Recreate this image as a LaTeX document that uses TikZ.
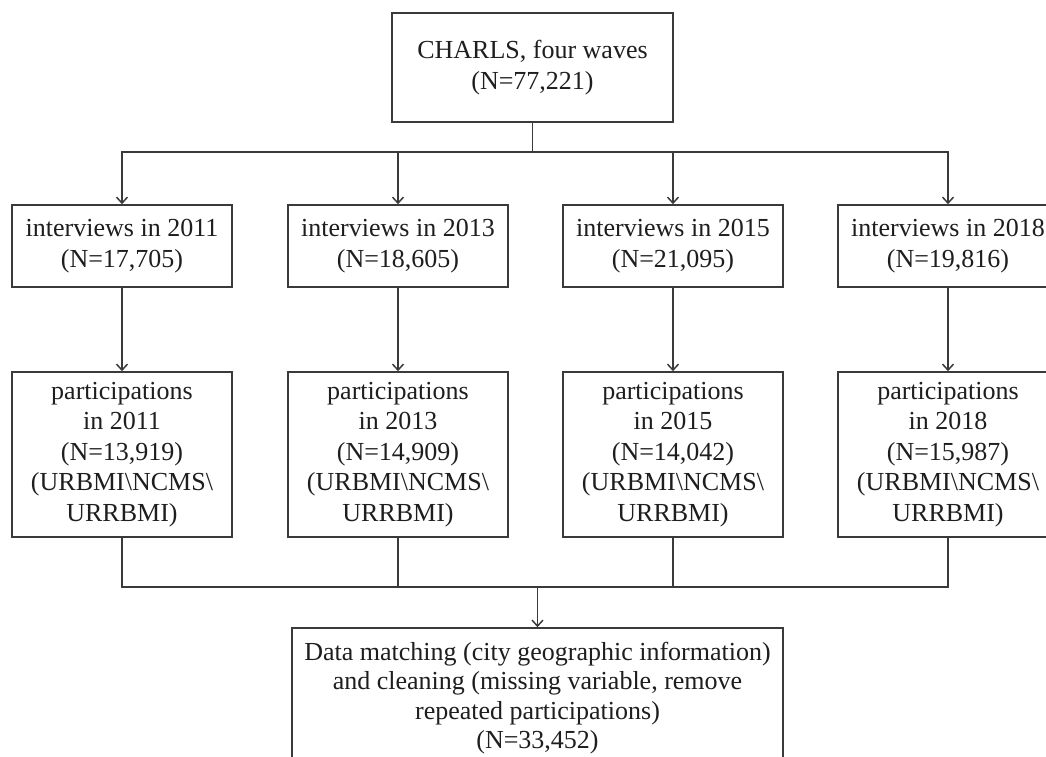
\documentclass[tikz,border=0pt]{standalone}
\usepackage{fontspec}
\setmainfont{Liberation Serif}
\usepackage{tikz}
\usetikzlibrary{positioning,arrows.meta,calc}
\definecolor{boxline}{HTML}{3A3A3A}
\definecolor{flowtext}{HTML}{1E1E1E}

\begin{document}
\begin{tikzpicture}[
  x=1pt,y=-1pt,
  font=\fontsize{26}{30.5}\selectfont,
  text=flowtext,
  flowbox/.style={rectangle,draw=boxline,line width=1.6pt,fill=white,align=center,inner sep=2pt},
  wavebox/.style={flowbox,minimum width=220pt,minimum height=82pt},
  partbox/.style={flowbox,minimum width=220pt,minimum height=165pt},
  link/.style={line width=1.5pt,boxline},
  arr/.style={link,-{Straight Barb[length=6pt,width=11pt]}},
]
\useasboundingbox (0,0) rectangle (1046,756);

% Source
\node[flowbox,minimum width=281pt,minimum height=109pt] (charls) at (532.5,67.5)
  {CHARLS, four waves\\(N=77,221)};
\coordinate (split) at (532.5,152);
\draw[link] (charls) -- (split);

% Interview waves
\node[wavebox] (int11) at (122,246) {interviews in 2011\\(N=17,705)};
\node[wavebox] (int13) at (398,246) {interviews in 2013\\(N=18,605)};
\node[wavebox] (int15) at (673,246) {interviews in 2015\\(N=21,095)};
\node[wavebox] (int18) at (948,246) {interviews in 2018\\(N=19,816)};
\foreach \w in {int11,int13,int15,int18}
  \draw[arr] (split) -| (\w.north);

% Participations
\node[partbox] (par11) at (122,454.5) {participations\\in 2011\\(N=13,919)\\(URBMI\textbackslash NCMS\textbackslash\\URRBMI)};
\node[partbox] (par13) at (398,454.5) {participations\\in 2013\\(N=14,909)\\(URBMI\textbackslash NCMS\textbackslash\\URRBMI)};
\node[partbox] (par15) at (673,454.5) {participations\\in 2015\\(N=14,042)\\(URBMI\textbackslash NCMS\textbackslash\\URRBMI)};
\node[partbox] (par18) at (948,454.5) {participations\\in 2018\\(N=15,987)\\(URBMI\textbackslash NCMS\textbackslash\\URRBMI)};
\draw[arr] (int11) -- (par11);
\draw[arr] (int13) -- (par13);
\draw[arr] (int15) -- (par15);
\draw[arr] (int18) -- (par18);

% Merge and cleaning
\coordinate (merge) at (537.5,587);
\foreach \p in {par11,par13,par15,par18}
  \draw[link] (\p.south) |- (merge);
\node[flowbox,minimum width=491pt,minimum height=140pt,font=\fontsize{26}{29.5}\selectfont] (clean) at (537.5,698)
  {Data matching (city geographic information)\\and cleaning (missing variable, remove\\repeated participations)\\(N=33,452)};
\draw[arr] (merge) -- (clean);
\end{tikzpicture}
\end{document}
